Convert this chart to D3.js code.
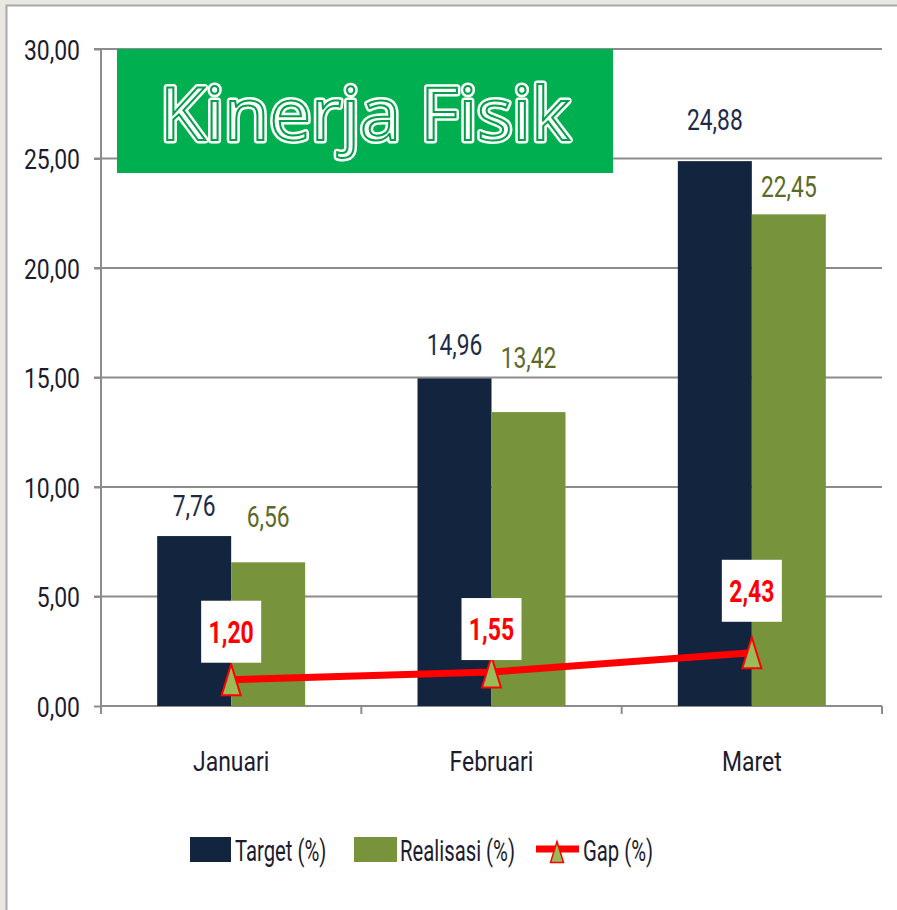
<!DOCTYPE html>
<html>
<head>
<meta charset="utf-8">
<script src="https://cdn.jsdelivr.net/npm/d3@7"></script>
<style>
  body { margin: 0; background: #e9e7e1; }
  svg { display: block; }
</style>
</head>
<body>
<div id="chart"></div>
<script>
// data
const categories = ["Januari", "Februari", "Maret"];
const target = [7.76, 14.96, 24.88];
const realisasi = [6.56, 13.42, 22.45];
const gap = [1.2, 1.55, 2.43];
const yTicks = [0, 5, 10, 15, 20, 25, 30];
const seriesNames = ["Target (%)", "Realisasi (%)", "Gap (%)"];

// label nudges (layout, px)
const targetLabelDy = [-20, -23, -31];
const realLabelDy = [-35, -44, -17];
const gapLabelDy = [-17, -12, -31];

const width = 897;
const height = 910;
const plotLeft = 101, plotRight = 882, plotTop = 49, plotBottom = 706;
const fmt = (v) => d3.format(".2f")(v).replace(".", ",");
const font = "Roboto, sans-serif";
const sx = 0.82; // narrow the glyphs to look like the condensed original

const svg = d3
  .select("#chart")
  .append("svg")
  .attr("width", width)
  .attr("height", height)
  .style("font-family", font);

// text helper: condensed text at x,y
function label(g, x, y, txt, s) {
  return g.append("text")
    .attr("transform", "translate(" + x + "," + y + ") scale(" + (s || sx) + ",1)")
    .text(txt);
}

// frame
svg.append("rect").attr("x", 6).attr("y", 5).attr("width", width - 6).attr("height", height - 5)
  .attr("fill", "#fff");
svg.append("path").attr("d", "M6.5," + height + "V5.5H" + width)
  .attr("fill", "none").attr("stroke", "#a8a8a8").attr("stroke-width", 2);

const yScale = d3.scaleLinear().domain([0, 30]).range([plotBottom, plotTop]);
const xScale = d3.scaleBand().domain(categories).range([plotLeft, plotRight]);
const x1 = d3.scaleBand().domain(["t", "r"]).range([0, 148]);
const offset = (xScale.bandwidth() - 148) / 2;
const cx = (c) => xScale(c) + xScale.bandwidth() / 2;

// grid
svg.append("g")
  .selectAll("line")
  .data(yTicks.slice(1))
  .enter()
  .append("line")
  .attr("x1", plotLeft - 7)
  .attr("x2", plotRight)
  .attr("y1", (d) => yScale(d))
  .attr("y2", (d) => yScale(d))
  .attr("stroke", "#8c8c8c")
  .attr("stroke-width", 2);

// y axis
const yAxis = d3.axisLeft(yScale).tickValues(yTicks).tickSize(7).tickPadding(14).tickFormat(fmt);
const gy = svg.append("g").attr("id", "y-axis").attr("transform", "translate(" + plotLeft + ",0)").call(yAxis);
gy.select(".domain").attr("d", "M0," + plotTop + "V" + (plotBottom + 7)).attr("stroke", "#8c8c8c").attr("stroke-width", 2);
gy.selectAll(".tick line").attr("stroke", "#8c8c8c").attr("stroke-width", 2);
gy.selectAll(".tick text")
  .attr("font-family", font).attr("font-size", 28).attr("fill", "#1c1c2e")
  .attr("x", -21 / sx).attr("dy", "0.36em").attr("transform", "scale(" + sx + ",1)");

// x axis
const xAxis = d3.axisBottom(xScale).tickSize(0).tickPadding(0).tickFormat(() => "");
const gx = svg.append("g").attr("id", "x-axis").attr("transform", "translate(0," + plotBottom + ")").call(xAxis);
gx.select(".domain").attr("d", "M" + plotLeft + ",0H" + plotRight).attr("stroke", "#8c8c8c").attr("stroke-width", 2);
const boundaries = categories.map((c) => xScale(c)).concat([plotRight]);
gx.selectAll(".sep").data(boundaries).enter().append("line")
  .attr("x1", (d) => d).attr("x2", (d) => d).attr("y1", 0).attr("y2", 8)
  .attr("stroke", "#8c8c8c").attr("stroke-width", 2);
const catG = svg.append("g").attr("text-anchor", "middle").attr("font-size", 28).attr("fill", "#1c1c2e");
categories.forEach((c) => label(catG, cx(c), 771, c));

// bars
const bars = svg.append("g");
bars.selectAll(".t").data(target).enter().append("rect")
  .attr("x", (d, i) => xScale(categories[i]) + offset + x1("t"))
  .attr("y", (d) => yScale(d))
  .attr("width", x1.bandwidth())
  .attr("height", (d) => plotBottom - yScale(d))
  .attr("fill", "#13243f");
bars.selectAll(".r").data(realisasi).enter().append("rect")
  .attr("x", (d, i) => xScale(categories[i]) + offset + x1("r"))
  .attr("y", (d) => yScale(d))
  .attr("width", x1.bandwidth())
  .attr("height", (d) => plotBottom - yScale(d))
  .attr("fill", "#77933c");

// bar labels
const tl = svg.append("g").attr("text-anchor", "middle").attr("font-size", 30).attr("fill", "#1d2b48");
target.forEach((d, i) =>
  label(tl, xScale(categories[i]) + offset + x1("t") + x1.bandwidth() / 2, yScale(d) + targetLabelDy[i], fmt(d), 0.76));
const rl = svg.append("g").attr("text-anchor", "middle").attr("font-size", 30).attr("fill", "#5b6a26");
realisasi.forEach((d, i) =>
  label(rl, xScale(categories[i]) + offset + x1("r") + x1.bandwidth() / 2, yScale(d) + realLabelDy[i], fmt(d), 0.76));

// gap line
const line = d3.line().x((d, i) => cx(categories[i])).y((d) => yScale(d));
svg.append("path").datum(gap).attr("d", line)
  .attr("fill", "none").attr("stroke", "#ff0000").attr("stroke-width", 7);

const tri = (w, h) => "M0," + (-h / 2) + "L" + (w / 2) + "," + (h / 2) + "L" + (-w / 2) + "," + (h / 2) + "Z";
svg.append("g").selectAll("path").data(gap).enter().append("path")
  .attr("d", tri(19, 31))
  .attr("transform", (d, i) => "translate(" + cx(categories[i]) + "," + yScale(d) + ")")
  .attr("fill", "#9bbb59").attr("stroke", "#ff0000").attr("stroke-width", 2);

// gap labels
const gl = svg.append("g").attr("text-anchor", "middle").attr("font-size", 32)
  .attr("font-weight", "bold").attr("fill", "#ff0000");
gap.forEach((d, i) => {
  const x = cx(categories[i]);
  const yb = yScale(d) + gapLabelDy[i];
  gl.append("rect").attr("x", x - 30).attr("y", yb - 62).attr("width", 60).attr("height", 62).attr("fill", "#fff");
  label(gl, x, yb - 20, fmt(d), 0.72);
});

// title
svg.append("rect").attr("x", 117).attr("y", 49).attr("width", 496).attr("height", 124).attr("fill", "#00b050");
const title = svg.append("g").attr("font-family", "'Open Sans', sans-serif").attr("font-size", 74);
title.append("text").attr("x", 365).attr("y", 140).attr("text-anchor", "middle")
  .attr("fill", "#fff").attr("stroke", "#fff").attr("stroke-width", 7).attr("stroke-linejoin", "round")
  .text("Kinerja Fisik");
title.append("text").attr("x", 365).attr("y", 140).attr("text-anchor", "middle")
  .attr("fill", "#fff").attr("stroke", "#00a047").attr("stroke-width", 2)
  .text("Kinerja Fisik");

// legend
const legend = svg.append("g").attr("font-size", 29).attr("fill", "#1c1c2e");
legend.append("rect").attr("x", 190).attr("y", 837).attr("width", 41).attr("height", 25).attr("fill", "#13243f");
label(legend, 235, 861, seriesNames[0], 0.7);
legend.append("rect").attr("x", 354).attr("y", 837).attr("width", 43).attr("height", 25).attr("fill", "#77933c");
label(legend, 400, 861, seriesNames[1], 0.7);
legend.append("line").attr("x1", 536).attr("x2", 579).attr("y1", 849).attr("y2", 849)
  .attr("stroke", "#ff0000").attr("stroke-width", 7);
legend.append("path").attr("d", tri(13, 21)).attr("transform", "translate(557,852)")
  .attr("fill", "#9bbb59").attr("stroke", "#ff0000").attr("stroke-width", 1.5);
label(legend, 583, 861, seriesNames[2], 0.7);
</script>
</body>
</html>
